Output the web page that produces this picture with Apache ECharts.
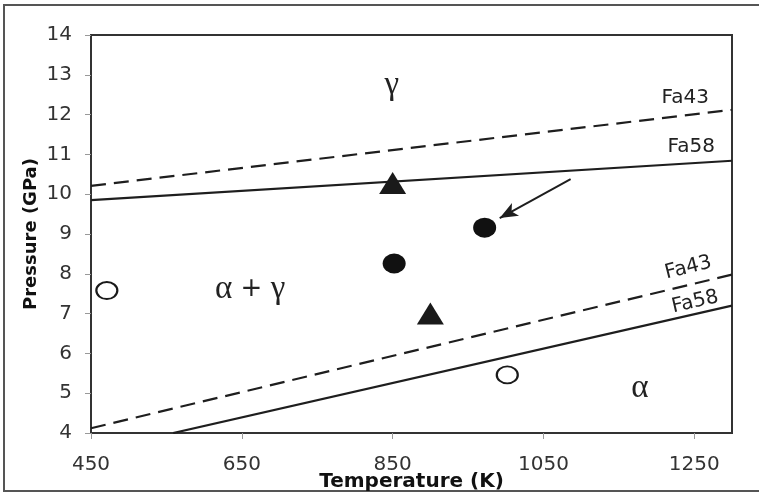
<!DOCTYPE html>
<html>
<head>
<meta charset="utf-8">
<script src="https://cdn.jsdelivr.net/npm/echarts@6/dist/echarts.min.js"></script>
<style>
html,body{margin:0;padding:0;background:#fff;}
#c{width:759px;height:493px;}
</style>
</head>
<body>
<div id="c"></div>
<script>
// ---- data ----
var xTicks = [450, 650, 850, 1050, 1250];
var yTicks = [4, 5, 6, 7, 8, 9, 10, 11, 12, 13, 14];
var upperFa43 = [[450, 10.21], [1300, 12.12]];
var upperFa58 = [[450, 9.85], [1300, 10.84]];
var lowerFa43 = [[450, 4.12], [1300, 7.98]];
var lowerFa58 = [[559, 4.0], [1300, 7.2]];
var filledTriangles = [[850, 10.28], [900, 7.0]];
var filledCircles = [[852, 8.26], [972, 9.16]];
var openCircles = [[471, 7.58], [1002, 5.46]];
var arrowFrom = [1086, 10.38];
var arrowTo = [992, 9.4];
var annotations = [
  {text: '{g|γ}', at: [849, 12.74], kind: 'greek'},
  {text: '{g|α}{p| + }{g|γ}', at: [661, 7.6], kind: 'greek'},
  {text: '{g|α}', at: [1178, 5.13], kind: 'greek'},
  {text: 'Fa43', at: [1238, 12.42], kind: 'fa', rot: 0},
  {text: 'Fa58', at: [1246, 11.19], kind: 'fa', rot: 0},
  {text: 'Fa43', at: [1242, 8.15], kind: 'fa', rot: 14},
  {text: 'Fa58', at: [1251, 7.29], kind: 'fa', rot: 13}
];

var chart = echarts.init(document.getElementById('c'), null, {renderer: 'canvas'});
var sans = 'DejaVu Sans, Verdana, sans-serif';
var ink = '#1e1e1e';

function boundary(data, dashed) {
  return {
    type: 'line', data: data, symbol: 'none', silent: true,
    lineStyle: {color: ink, width: 2.2, type: dashed ? [15, 8] : 'solid'},
    z: 3
  };
}

chart.setOption({
  animation: false,
  grid: {left: 91, top: 35, right: 27, bottom: 60, containLabel: false, outerBoundsMode: 'none',
    show: true, borderColor: '#333', borderWidth: 2, backgroundColor: 'transparent'},
  xAxis: {
    type: 'value', min: 450, max: 1300,
    name: 'Temperature (K)', nameLocation: 'middle', nameGap: 39, nameMoveOverlap: false,
    nameTextStyle: {fontFamily: sans, fontWeight: 'bold', fontSize: 20, color: '#111'},
    axisLine: {show: true, lineStyle: {color: '#333', width: 2}},
    axisTick: {show: true, inside: false, length: 6, customValues: xTicks, lineStyle: {color: '#999', width: 1}},
    axisLabel: {customValues: xTicks, fontFamily: sans, fontSize: 20, color: '#333', margin: 22,
      formatter: function (v) { return String(v); }},
    splitLine: {show: false}
  },
  yAxis: {
    type: 'value', min: 4, max: 14, interval: 1,
    name: 'Pressure (GPa)', nameLocation: 'middle', nameGap: 51, nameMoveOverlap: false,
    nameTextStyle: {fontFamily: sans, fontWeight: 'bold', fontSize: 18, color: '#111'},
    axisLine: {show: true, lineStyle: {color: '#333', width: 2}},
    axisTick: {show: true, length: 6, lineStyle: {color: '#999', width: 1}},
    axisLabel: {fontFamily: sans, fontSize: 20, color: '#333', margin: 19,
      formatter: function (v) { return String(v); }},
    splitLine: {show: false}
  },
  series: [
    boundary(upperFa43, true),
    boundary(upperFa58, false),
    boundary(lowerFa43, true),
    boundary(lowerFa58, false),
    {type: 'scatter', data: filledTriangles, symbol: 'triangle', symbolSize: [27, 22],
     itemStyle: {color: '#1a1a1a', opacity: 1}, z: 5},
    {type: 'scatter', data: filledCircles, symbol: 'circle', symbolSize: [23, 20],
     itemStyle: {color: '#111', opacity: 1}, z: 5},
    {type: 'scatter', data: openCircles, symbol: 'circle', symbolSize: [21, 17],
     itemStyle: {color: '#fff', borderColor: '#1a1a1a', borderWidth: 2, opacity: 1}, z: 5},
    {type: 'line', data: [], symbol: 'none',
     markLine: {silent: true, animation: false,
       symbol: ['none', 'arrow'], symbolSize: [11, 18],
       lineStyle: {color: ink, width: 2, type: 'solid'},
       label: {show: false},
       data: [[{coord: arrowFrom}, {coord: arrowTo}]]}}
  ]
});

var g = [{
  type: 'rect', shape: {x: 4, y: 5, width: 760, height: 486},
  style: {fill: 'none', stroke: '#555', lineWidth: 2}, silent: true, z: 0
}];
annotations.forEach(function (a) {
  var p = chart.convertToPixel({gridIndex: 0}, a.at);
  var greek = a.kind === 'greek';
  var style = {
    text: a.text, align: 'center', verticalAlign: 'middle', fill: '#222'
  };
  if (greek) {
    style.rich = {
      g: {font: '33px "Liberation Serif", "DejaVu Serif", serif', fill: '#222', textFill: '#222', color: '#222'},
      p: {font: '26px "DejaVu Sans", sans-serif', fill: '#222', textFill: '#222', color: '#222'}
    };
  } else {
    style.font = '20px "DejaVu Sans", sans-serif';
  }
  g.push({
    type: 'text', x: p[0], y: p[1], rotation: (a.rot || 0) * Math.PI / 180,
    style: style, z: 10, silent: true
  });
});
chart.setOption({graphic: g});
</script>
</body>
</html>
